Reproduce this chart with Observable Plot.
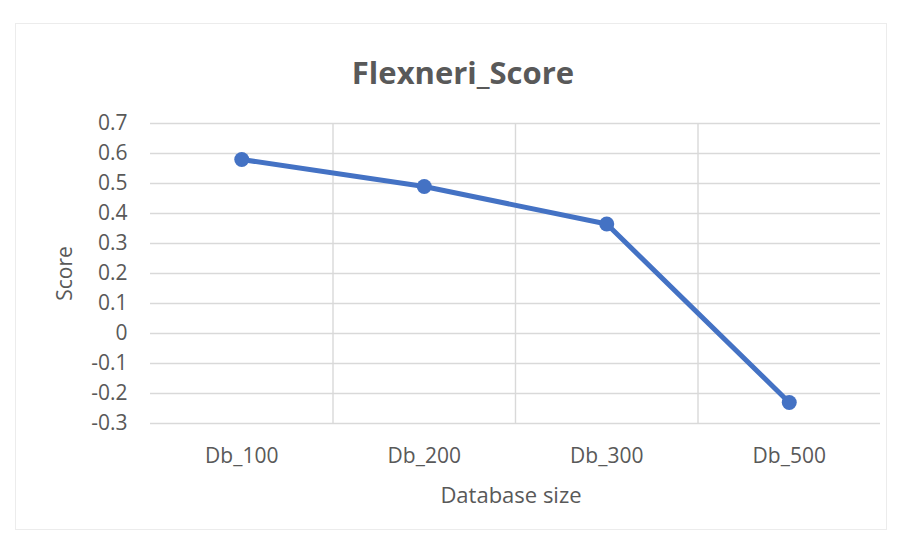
<!DOCTYPE html>
<html>
<head>
<meta charset="utf-8">
<script src="https://cdn.jsdelivr.net/npm/d3@7"></script>
<script src="https://cdn.jsdelivr.net/npm/@observablehq/plot@0.6"></script>
<style>
  body { margin: 0; background: #fff; }
  #chart { position: relative; width: 898px; height: 539px; font-family: "Open Sans", sans-serif; color: #595959; background: #fff; }
  #frame { position: absolute; left: 15px; top: 23px; width: 870px; height: 505px; border: 1px solid #ececec; pointer-events: none; }
  #title { height: 100px; box-sizing: border-box; padding-top: 51px; padding-left: 28px; text-align: center; font-size: 31px; font-weight: 700; line-height: 42px; }
  #xlabel { height: 60px; box-sizing: border-box; padding-left: 124px; text-align: center; font-size: 22px; line-height: 30px; }
  svg { display: block; }
</style>
</head>
<body>
<div id="chart">
  <div id="frame"></div>
  <div id="title">Flexneri_Score</div>
  <div id="plot"></div>
  <div id="xlabel">Database size</div>
</div>
<script>
// Score per database size
const categories = ["Db_100", "Db_200", "Db_300", "Db_500"];
const scores = [0.58, 0.49, 0.365, -0.23];
const yTicks = [-0.3, -0.2, -0.1, 0, 0.1, 0.2, 0.3, 0.4, 0.5, 0.6, 0.7];

// Each category occupies one unit slot; points sit in the middle of their slot
const data = categories.map((c, i) => ({ pos: i + 0.5, score: scores[i], label: c }));
const slotEdges = d3.range(1, categories.length);

const chart = Plot.plot({
  width: 898,
  height: 379,
  marginTop: 23,
  marginBottom: 56,
  marginLeft: 150,
  marginRight: 18,
  style: { fontFamily: "'Open Sans', sans-serif", fontSize: "21px", color: "#595959", background: "transparent", overflow: "visible" },
  x: {
    domain: [0, categories.length],
    ticks: data.map(d => d.pos),
    tickFormat: v => categories[Math.floor(v)],
    tickSize: 0,
    tickPadding: 25,
    label: null
  },
  y: {
    domain: [-0.3, 0.7],
    ticks: yTicks,
    tickFormat: v => (Math.abs(v) < 1e-9 ? "0" : v.toFixed(1)),
    tickSize: 0,
    tickPadding: 23,
    label: "Score",
    labelAnchor: "center",
    labelArrow: "none",
    labelOffset: 93
  },
  marks: [
    Plot.ruleY(yTicks, { stroke: "#d9d9d9", strokeWidth: 1.4 }),
    Plot.ruleX(slotEdges, { stroke: "#d9d9d9", strokeWidth: 1.4 }),
    Plot.line(data, { x: "pos", y: "score", stroke: "#4472C4", strokeWidth: 5, strokeLinejoin: "round", strokeLinecap: "round" }),
    Plot.dot(data, { x: "pos", y: "score", fill: "#4472C4", r: 7.5 })
  ]
});
document.getElementById("plot").appendChild(chart);
</script>
</body>
</html>
